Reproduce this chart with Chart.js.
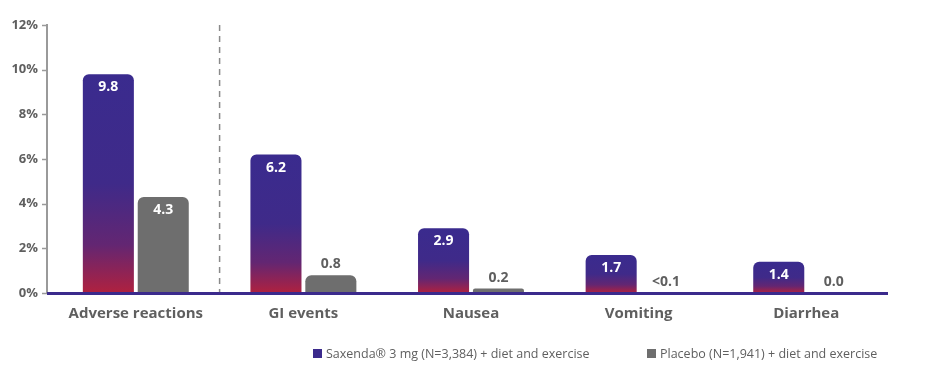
<!DOCTYPE html>
<html>
<head>
<meta charset="utf-8">
<script src="https://cdn.jsdelivr.net/npm/chart.js@4.4.1/dist/chart.umd.min.js"></script>
<style>
  html, body { margin: 0; padding: 0; background: #ffffff; }
  #wrap { width: 940px; height: 366px; position: relative; }
</style>
</head>
<body>
<div id="wrap"><canvas id="c" width="940" height="366"></canvas></div>
<script>
const categories = ["Adverse reactions", "GI events", "Nausea", "Vomiting", "Diarrhea"];
const saxendaValues = [9.8, 6.2, 2.9, 1.7, 1.4];
const placeboValues = [4.3, 0.8, 0.2, 0.0, 0.0];
const saxendaLabels = ["9.8", "6.2", "2.9", "1.7", "1.4"];
const placeboLabels = ["4.3", "0.8", "0.2", "<0.1", "0.0"];
const seriesNames = ["Saxenda\u00AE 3 mg (N=3,384) + diet and exercise", "Placebo (N=1,941) + diet and exercise"];
const yTicks = [0, 2, 4, 6, 8, 10, 12];

const PURPLE = "#3b2a8c";
const RED = "#b0213f";
const GRAY = "#6e6e6e";
const TEXT = "#5f5f5f";
const FONT = "'Open Sans', 'Noto Sans', sans-serif";

function barGradient(ctx) {
  const chart = ctx.chart;
  const area = chart.chartArea;
  if (!area || ctx.type !== 'data') return PURPLE;
  const y = chart.scales.y;
  const v = ctx.raw;
  const top = y.getPixelForValue(v);
  const bottom = y.getPixelForValue(0);
  if (!isFinite(top) || bottom - top < 1) return PURPLE;
  const g = chart.ctx.createLinearGradient(0, top, 0, bottom);
  g.addColorStop(0, "#3a2b8e");
  g.addColorStop(0.5, "#3f2a89");
  g.addColorStop(0.78, "#632672");
  g.addColorStop(1, RED);
  return g;
}

const decorPlugin = {
  id: 'decor',
  beforeDatasetsDraw(chart) {
    const {ctx, chartArea, scales} = chart;
    const y = scales.y, x = scales.x;
    const axisX = chartArea.left - 5;
    ctx.save();
    ctx.strokeStyle = "#9a9a9a";
    ctx.lineWidth = 2;
    ctx.beginPath();
    ctx.moveTo(axisX, y.getPixelForValue(12) - 1);
    ctx.lineTo(axisX, y.getPixelForValue(0));
    ctx.stroke();
    yTicks.forEach(t => {
      const py = Math.round(y.getPixelForValue(t)) + 0.5;
      ctx.beginPath();
      ctx.moveTo(axisX - 5, py);
      ctx.lineTo(axisX, py);
      ctx.lineWidth = 1.5;
      ctx.stroke();
    });
    const sepX = (x.getPixelForValue(0) + x.getPixelForValue(1)) / 2;
    ctx.setLineDash([6, 5]);
    ctx.strokeStyle = "#8a8a8a";
    ctx.lineWidth = 1.5;
    ctx.beginPath();
    ctx.moveTo(sepX, y.getPixelForValue(12));
    ctx.lineTo(sepX, y.getPixelForValue(0));
    ctx.stroke();
    ctx.restore();
  },
  afterDatasetsDraw(chart) {
    const {ctx, chartArea, scales} = chart;
    const y = scales.y;
    ctx.save();
    ctx.strokeStyle = "#3b2a8c";
    ctx.lineWidth = 3;
    ctx.beginPath();
    const by = y.getPixelForValue(0) + 0.5;
    ctx.moveTo(chartArea.left - 5, by);
    ctx.lineTo(chartArea.right - 2, by);
    ctx.stroke();
    ctx.font = "bold 14px " + FONT;
    ctx.textAlign = "center";
    ctx.textBaseline = "middle";
    const labelSets = [saxendaLabels, placeboLabels];
    chart.data.datasets.forEach((ds, di) => {
      const meta = chart.getDatasetMeta(di);
      meta.data.forEach((bar, i) => {
        const txt = labelSets[di][i];
        const h = by - bar.y;
        if (h > 26) {
          ctx.fillStyle = "#ffffff";
          ctx.fillText(txt, bar.x, bar.y + 13);
        } else {
          ctx.fillStyle = TEXT;
          ctx.fillText(txt, bar.x, bar.y - 11);
        }
      });
    });
    ctx.font = "12.5px " + FONT;
    ctx.textAlign = "left";
    ctx.textBaseline = "middle";
    const legendY = 354;
    const items = [{x: 313, color: "#3b2a8c"}, {x: 647, color: GRAY}];
    items.forEach((it, k) => {
      ctx.fillStyle = it.color;
      ctx.fillRect(it.x, legendY - 5, 9, 9);
      ctx.fillStyle = TEXT;
      ctx.fillText(seriesNames[k], it.x + 13, legendY);
    });
    ctx.restore();
  }
};

new Chart(document.getElementById('c'), {
  type: 'bar',
  data: {
    labels: categories,
    datasets: [
      {
        label: seriesNames[0],
        data: saxendaValues,
        backgroundColor: barGradient,
        borderRadius: {topLeft: 6, topRight: 6, bottomLeft: 0, bottomRight: 0},
        borderSkipped: 'bottom',
        barPercentage: 0.93,
        categoryPercentage: 0.655
      },
      {
        label: seriesNames[1],
        data: placeboValues,
        backgroundColor: GRAY,
        borderRadius: {topLeft: 6, topRight: 6, bottomLeft: 0, bottomRight: 0},
        borderSkipped: 'bottom',
        barPercentage: 0.93,
        categoryPercentage: 0.655
      }
    ]
  },
  options: {
    responsive: false,
    animation: false,
    devicePixelRatio: 1,
    layout: { autoPadding: false, padding: { top: 25, right: 50, bottom: 0, left: 0 } },
    plugins: { legend: { display: false }, tooltip: { enabled: false } },
    scales: {
      x: {
        grid: { display: false, drawTicks: false },
        border: { display: false },
        ticks: {
          color: TEXT,
          font: { family: FONT, size: 15, weight: 'bold' },
          padding: 12
        },
        afterFit(s) { s.height = 366 - 293; }
      },
      y: {
        min: 0, max: 12,
        afterBuildTicks(s) { s.ticks = yTicks.map(v => ({value: v})); },
        grid: { display: false, drawTicks: false },
        border: { display: false },
        ticks: {
          color: TEXT,
          font: { family: FONT, size: 13, weight: 'bold' },
          padding: 14,
          callback: v => v + "%"
        },
        afterFit(s) { s.width = 52; }
      }
    }
  },
  plugins: [decorPlugin]
});
</script>
</body>
</html>
